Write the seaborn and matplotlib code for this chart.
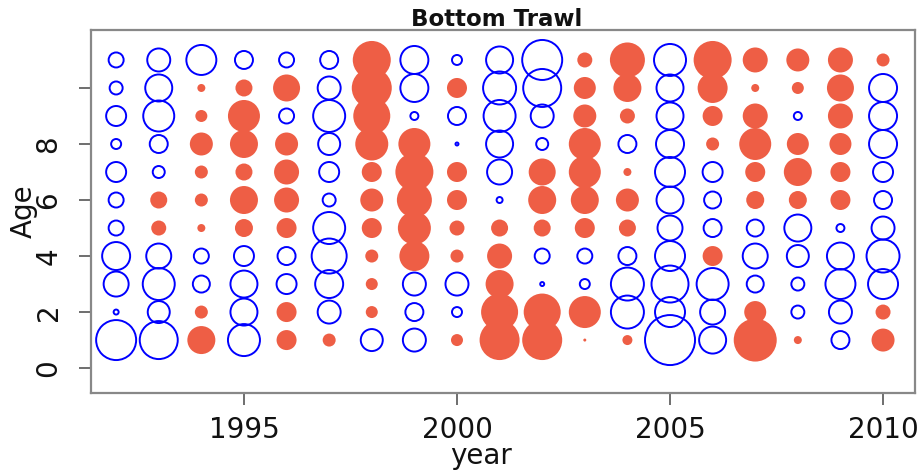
import numpy as np
import pandas as pd
import matplotlib
matplotlib.use("Agg")
import matplotlib.pyplot as plt
import seaborn as sns

# residuals by year (rows) and age 1..11 (columns); + = red filled, - = blue open
years = list(range(1992, 2011))
ages = list(range(1, 12))
resid_1992 = [-4.0, -0.5, -2.5, -2.8, -1.5, -1.5, -2.0, -1.0, -2.0, -1.3, -1.5]
resid_1993 = [-3.8, -2.2, -3.2, -2.5, 1.5, 1.7, -1.2, -1.8, -3.1, -2.7, -2.3]
resid_1994 = [2.8, 1.3, -1.7, -1.5, 0.8, 1.3, 1.3, 2.3, 1.2, 0.8, -3.0]
resid_1995 = [-3.2, -2.7, -2.7, -2.0, 1.8, 2.8, 1.7, 2.8, 3.2, 1.7, -1.8]
resid_1996 = [2.0, 2.0, -2.0, -1.8, 2.0, 2.5, 2.5, 2.3, -1.5, 2.7, -1.5]
resid_1997 = [1.3, -2.3, -2.8, -3.5, -3.2, -1.3, -2.0, -2.2, -3.2, -2.3, -1.8]
resid_1998 = [-2.2, 1.2, 1.2, 1.3, 2.0, 2.3, 2.0, 3.3, 3.7, 4.0, 3.8]
resid_1999 = [-2.3, -1.8, -2.3, 3.0, 3.3, 3.5, 3.8, 3.2, -0.8, -2.8, -2.8]
resid_2000 = [1.2, -1.0, -2.3, 1.3, 1.5, 2.0, 2.0, -0.3, -1.8, 2.0, -1.0]
resid_2001 = [4.0, 3.7, 2.8, 2.5, 1.7, -0.6, -2.5, -2.7, -3.2, -3.3, -2.7]
resid_2002 = [4.0, 3.7, -0.4, -1.5, 1.7, 2.8, 2.7, -1.2, -2.3, -3.8, -4.0]
resid_2003 = [0.3, 3.2, -1.0, -1.5, 2.0, 2.8, 3.2, 3.2, 2.3, 2.2, 1.5]
resid_2004 = [1.0, -3.3, -3.3, -1.8, 1.7, 2.3, 0.8, -1.8, 1.5, 2.8, 3.5]
resid_2005 = [-5.0, -3.0, -3.7, -3.0, -2.5, -2.7, -3.0, -2.8, -2.7, -2.7, -3.2]
resid_2006 = [-2.7, -2.5, -3.2, 2.0, -1.8, -1.7, -2.0, 1.3, 2.0, 3.0, 3.8]
resid_2007 = [4.3, 2.2, -1.7, -2.5, -1.7, 1.8, 2.0, 3.2, 2.5, 0.8, 2.5]
resid_2008 = [0.8, -1.3, -1.3, -2.2, -2.7, 1.8, 2.8, 2.2, -0.8, 1.2, 2.3]
resid_2009 = [-1.8, -2.3, -3.0, -2.7, -0.8, 2.0, 2.0, 2.2, 2.5, 2.7, 2.5]
resid_2010 = [2.3, 1.5, -3.0, -3.3, -2.3, -1.8, -2.0, -2.8, -2.8, -2.8, 1.3]

resid_rows = [resid_1992, resid_1993, resid_1994, resid_1995, resid_1996,
              resid_1997, resid_1998, resid_1999, resid_2000, resid_2001,
              resid_2002, resid_2003, resid_2004, resid_2005, resid_2006,
              resid_2007, resid_2008, resid_2009, resid_2010]

x_ticks = [1995, 2000, 2005, 2010]
y_ticks = [0, 2, 4, 6, 8, 10]
y_ticklabels = ["0", "2", "4", "6", "8", ""]

df = pd.DataFrame(resid_rows, index=years, columns=ages)
df = df.stack().reset_index()
df.columns = ["year", "age", "resid"]
# circle diameter proportional to |resid| -> marker area proportional to resid^2
df["area"] = df["resid"] ** 2

sns.set_theme(style="white")
plt.rcParams["font.family"] = ["DejaVu Sans"]

fig = plt.figure(figsize=(9.24, 4.71), dpi=100)
ax = fig.add_axes([91 / 924, 1 - 393 / 471, (915 - 91) / 924, (393 - 30) / 471])

# diameter in px ~ 10 * |resid|  -> area in pt^2
max_a = df["area"].max()
max_area = (10 * np.sqrt(max_a) * 0.72) ** 2

pos = df[df["resid"] > 0]
neg = df[df["resid"] < 0]

sns.scatterplot(data=pos, x="year", y="age", size="area", sizes=(0, max_area),
                size_norm=(0, max_a), color="#EE5E45", edgecolor="none",
                linewidth=0, legend=False, ax=ax)
sns.scatterplot(data=neg, x="year", y="age", size="area", sizes=(0, max_area),
                size_norm=(0, max_a), color="#0000FF", facecolor="none",
                edgecolor="#0000FF", linewidth=1.4, legend=False, ax=ax)

ax.set_xlim(1991.41, 2010.75)
ax.set_ylim(-0.89, 12.07)
ax.set_xticks(x_ticks)
ax.set_yticks(y_ticks)
ax.set_yticklabels(y_ticklabels, rotation=90, va="center")
ax.tick_params(axis="both", length=8.5, width=1.2, color="#555555",
               labelsize=20, labelcolor="#111111", direction="out",
               bottom=True, left=True)
ax.tick_params(axis="x", pad=8)
ax.tick_params(axis="y", pad=12)
for sp in ax.spines.values():
    sp.set_color("#888888")
    sp.set_linewidth(1.6)

ax.set_xlabel("year", fontsize=20, color="#111111", labelpad=0)
ax.set_ylabel("Age", fontsize=20, color="#111111")
ax.xaxis.set_label_coords(0.473, -0.135)
ax.yaxis.set_label_coords(-0.064, 0.5)

fig.text(0.5375, 1 - 19 / 471, "Bottom Trawl", ha="center", va="center",
         fontsize=16.5, fontweight="bold", color="#111111")

fig.savefig("out.png", dpi=100)
